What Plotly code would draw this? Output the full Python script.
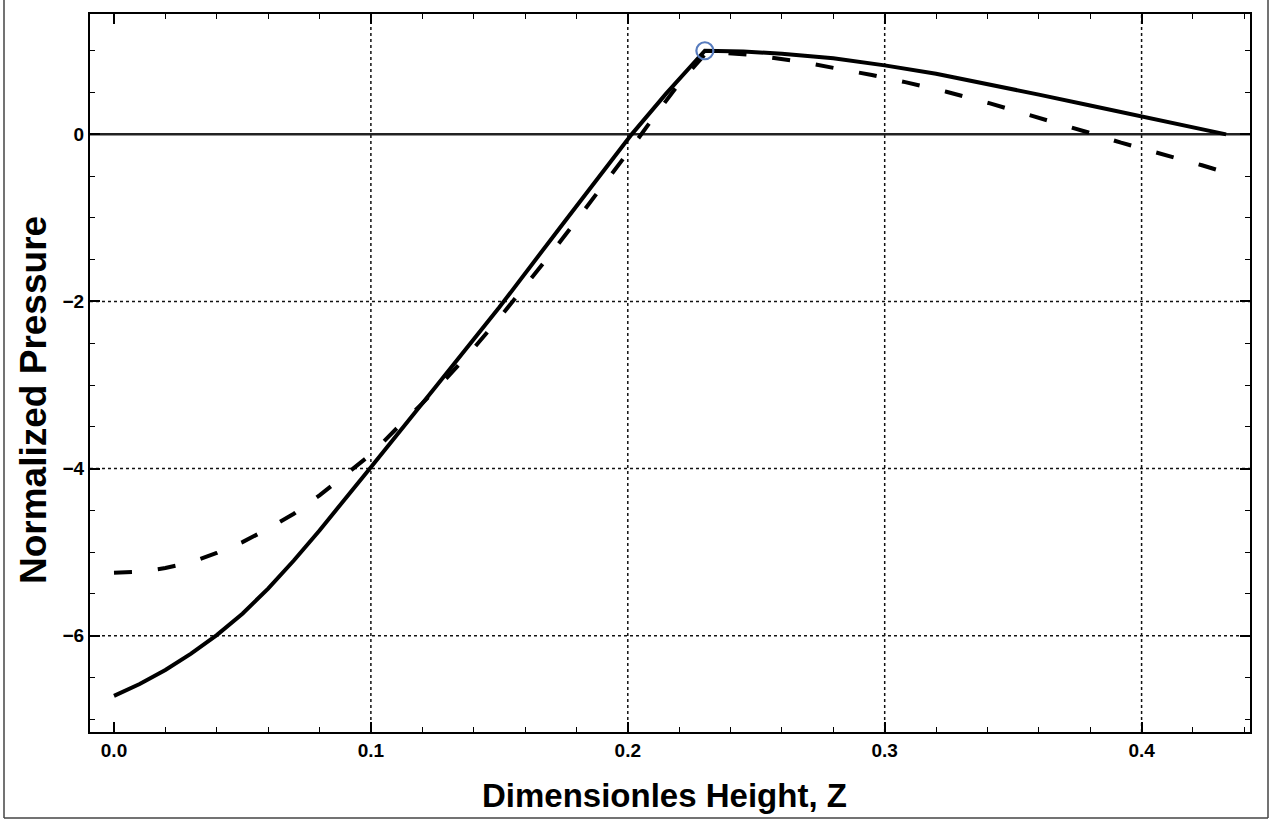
import plotly.graph_objects as go

# Solid curve: normalized pressure vs dimensionless height
z_solid = [0.000, 0.010, 0.020, 0.030, 0.040, 0.050, 0.060, 0.070, 0.080, 0.090,
           0.100, 0.125, 0.150, 0.175, 0.2015, 0.215, 0.230,
           0.245, 0.260, 0.280, 0.300, 0.320, 0.340, 0.360, 0.380, 0.400, 0.420, 0.4329]
p_solid = [-6.72, -6.578, -6.41, -6.215, -5.993, -5.736, -5.436, -5.10, -4.74, -4.365,
           -3.983, -3.03, -2.07, -1.06, 0.00, 0.49, 1.00,
           0.990, 0.965, 0.910, 0.825, 0.725, 0.605, 0.475, 0.345, 0.217, 0.085, 0.000]

# Dashed curve
z_dash = [0.000, 0.010, 0.020, 0.030, 0.040, 0.050, 0.060, 0.070, 0.080, 0.090,
          0.100, 0.110, 0.120, 0.130, 0.140, 0.150, 0.160, 0.170, 0.180, 0.190,
          0.200, 0.210, 0.220, 0.231,
          0.250, 0.267, 0.280, 0.295, 0.308, 0.324, 0.341, 0.355, 0.367, 0.379,
          0.392, 0.409, 0.4235, 0.432]
p_dash = [-5.246, -5.235, -5.19, -5.12, -5.01, -4.88, -4.72, -4.54, -4.32, -4.08,
          -3.83, -3.52, -3.22, -2.90, -2.56, -2.20, -1.82, -1.43, -1.03, -0.63,
          -0.22, 0.20, 0.61, 0.99,
          0.945, 0.87, 0.80, 0.71, 0.625, 0.51, 0.37, 0.245, 0.135, 0.025,
          -0.10, -0.24, -0.37, -0.45]

# Highlighted point at the kink
z_mark = [0.230]
p_mark = [1.000]

x_ticks = [0.0, 0.1, 0.2, 0.3, 0.4]
x_labels = ["0.0", "0.1", "0.2", "0.3", "0.4"]
y_ticks = [-6, -4, -2, 0]
y_labels = ["\u22126", "\u22124", "\u22122", "0"]
x_grid = [0.1, 0.2, 0.3, 0.4]
y_grid = [-6, -4, -2]

x_range = [-0.00934, 0.4422]
y_range = [-7.152, 1.44]

fig = go.Figure()
fig.add_trace(go.Scatter(x=z_dash, y=p_dash, mode="lines",
                         line=dict(color="black", width=4, dash="18px,26px")))
fig.add_trace(go.Scatter(x=z_solid, y=p_solid, mode="lines",
                         line=dict(color="black", width=4)))
fig.add_trace(go.Scatter(x=z_mark, y=p_mark, mode="markers",
                         marker=dict(symbol="circle-open", size=17,
                                     color="rgb(88,124,190)",
                                     line=dict(width=2.2, color="rgb(88,124,190)"))))

shapes = []
for gx in x_grid:
    shapes.append(dict(type="line", xref="x", yref="paper", x0=gx, x1=gx, y0=0, y1=1,
                       line=dict(color="#111", width=1.5, dash="dot"), layer="below"))
for gy in y_grid:
    shapes.append(dict(type="line", xref="paper", yref="y", x0=0, x1=1, y0=gy, y1=gy,
                       line=dict(color="#111", width=1.5, dash="dot"), layer="below"))
# zero line
shapes.append(dict(type="line", xref="paper", yref="y", x0=0, x1=1, y0=0, y1=0,
                   line=dict(color="#222", width=2.5), layer="below"))
# outer border of the graphic
bx0, bx1 = (4 - 90) / 1160, (1268 - 90) / 1160
by0, by1 = (732 - 818) / 718, (732 + 5) / 718
for seg in [(bx0, by0, bx1, by0), (bx0, by0, bx0, by1), (bx1, by0, bx1, by1)]:
    shapes.append(dict(type="line", xref="paper", yref="paper",
                       x0=seg[0], y0=seg[1], x1=seg[2], y1=seg[3],
                       line=dict(color="#444", width=1.5)))

tick_font = dict(family="Liberation Sans, Arial, sans-serif", size=19, color="black", weight="bold")
axis_common = dict(showline=True, linewidth=2, linecolor="black", mirror="allticks",
                   ticks="inside", ticklen=10, tickwidth=1.5, tickcolor="black",
                   showgrid=False, zeroline=False, tickfont=tick_font)

fig.update_xaxes(range=x_range, tickvals=x_ticks, ticktext=x_labels,
                 minor=dict(dtick=0.02, tick0=0, ticks="inside", ticklen=5,
                            tickwidth=1, tickcolor="black", showgrid=False),
                 **axis_common)
fig.update_yaxes(range=y_range, tickvals=y_ticks, ticktext=y_labels,
                 minor=dict(dtick=0.5, tick0=0, ticks="inside", ticklen=5,
                            tickwidth=1, tickcolor="black", showgrid=False),
                 **axis_common)

xtitle_font = dict(family="Liberation Sans, Arial, sans-serif", size=33, color="black", weight="bold")
ytitle_font = dict(family="Liberation Sans, Arial, sans-serif", size=37, color="black", weight="bold")
fig.update_layout(
    width=1279, height=820,
    margin=dict(l=90, r=29, t=14, b=88),
    paper_bgcolor="white", plot_bgcolor="white",
    showlegend=False,
    shapes=shapes,
    annotations=[
        dict(text="Dimensionles Height, Z", xref="paper", yref="paper",
             x=(664.5 - 90) / 1160, y=-63 / 718, xanchor="center", yanchor="middle",
             showarrow=False, font=xtitle_font),
        dict(text="Normalized Pressure", xref="paper", yref="paper",
             x=(33 - 90) / 1160, y=(732 - 400) / 718, xanchor="center", yanchor="middle",
             textangle=-90, showarrow=False, font=ytitle_font),
    ],
)

fig.write_html("out.html")
